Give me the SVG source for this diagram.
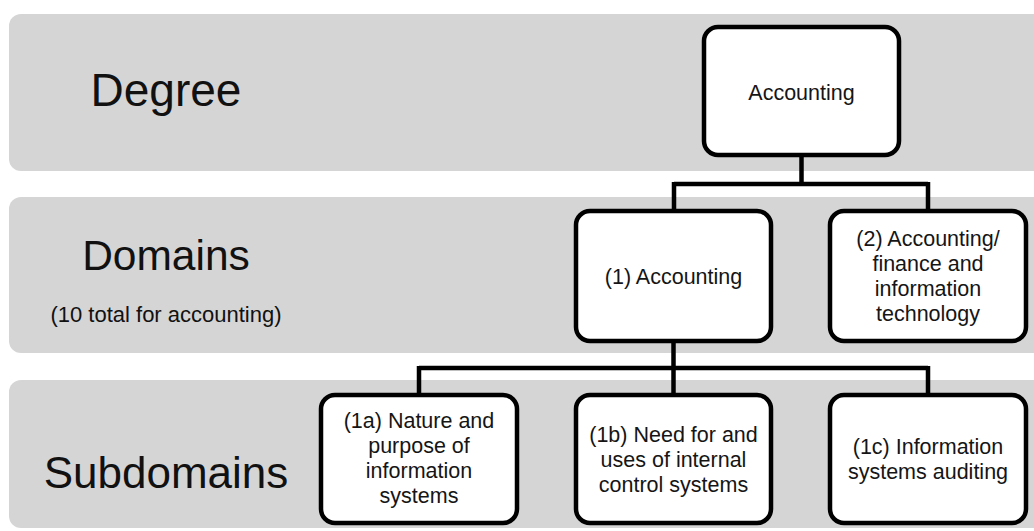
<svg xmlns="http://www.w3.org/2000/svg" width="1034" height="531" viewBox="0 0 1034 531">
  <style>
    .band { fill: #d5d5d5; }
    .node rect { fill: #ffffff; stroke: #000000; stroke-width: 4.5; }
    .node text { font-family: "Liberation Sans", Arial, sans-serif; font-size: 21.5px; fill: #151515; text-anchor: middle; }
    .lbl { font-family: "Liberation Sans", Arial, sans-serif; fill: #111111; text-anchor: middle; }
    .conn { fill: none; stroke: #000000; stroke-width: 4.5; stroke-linejoin: miter; stroke-linecap: butt; }
  </style>
  <rect width="1034" height="531" fill="#ffffff"/>

  <g id="bands">
    <rect class="band" x="9" y="14" width="1040" height="157" rx="12"/>
    <rect class="band" x="9" y="197" width="1040" height="156" rx="12"/>
    <rect class="band" x="9" y="380" width="1040" height="148" rx="12"/>
    <text class="lbl" x="166" y="106" font-size="46">Degree</text>
    <text class="lbl" x="166" y="270" font-size="42.5">Domains</text>
    <text class="lbl" x="166" y="322" font-size="22">(10 total for accounting)</text>
    <text class="lbl" x="166" y="488" font-size="44">Subdomains</text>
  </g>

  <g id="connectors">
    <path class="conn" d="M801.5,155 V184 M674,184 H928 M674,182 V211 M928,182 V211"/>
    <path class="conn" d="M673.5,341 V368 M419,368 H928 M419,366 V395 M673.5,366 V395 M928,366 V395"/>
  </g>

  <g id="node-degree" class="node">
    <rect x="704" y="27" width="195" height="128" rx="14"/>
    <text x="801.5" y="100">Accounting</text>
  </g>

  <g id="node-domain1" class="node">
    <rect x="576" y="211" width="195" height="130" rx="14"/>
    <text x="673.5" y="284">(1) Accounting</text>
  </g>

  <g id="node-domain2" class="node">
    <rect x="830" y="211" width="196" height="130" rx="14"/>
    <text x="928" y="246">(2) Accounting/</text>
    <text x="928" y="271">finance and</text>
    <text x="928" y="296">information</text>
    <text x="928" y="321">technology</text>
  </g>

  <g id="node-1a" class="node">
    <rect x="321" y="395" width="196" height="128" rx="14"/>
    <text x="419" y="428">(1a) Nature and</text>
    <text x="419" y="453">purpose of</text>
    <text x="419" y="478">information</text>
    <text x="419" y="503">systems</text>
  </g>

  <g id="node-1b" class="node">
    <rect x="576" y="395" width="195" height="128" rx="14"/>
    <text x="673.5" y="441.5">(1b) Need for and</text>
    <text x="673.5" y="466.5">uses of internal</text>
    <text x="673.5" y="491.5">control systems</text>
  </g>

  <g id="node-1c" class="node">
    <rect x="830" y="395" width="196" height="128" rx="14"/>
    <text x="928" y="454">(1c) Information</text>
    <text x="928" y="479">systems auditing</text>
  </g>
</svg>
